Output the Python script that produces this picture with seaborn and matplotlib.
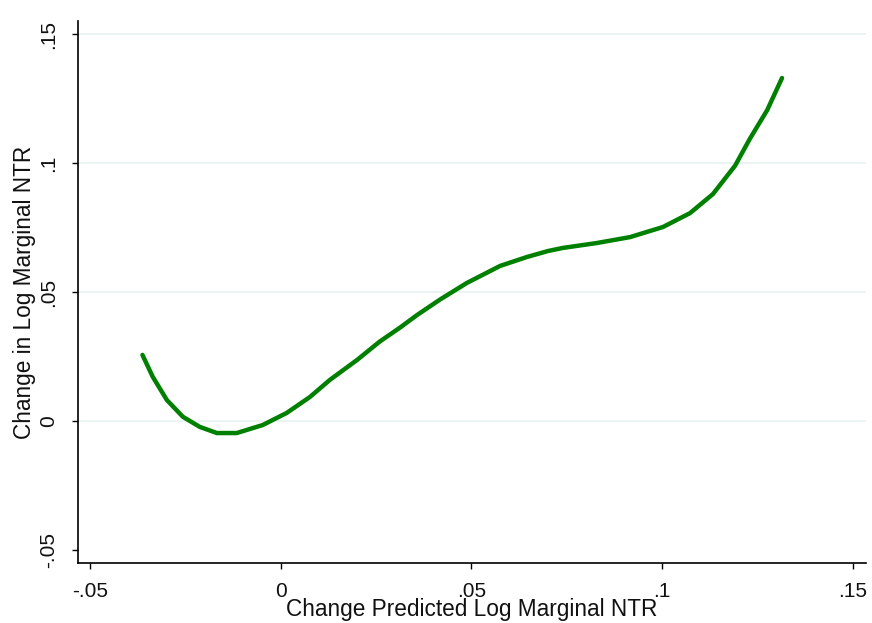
import numpy as np
import pandas as pd
import seaborn as sns
import matplotlib
matplotlib.use('Agg')
import matplotlib.pyplot as plt

# curve
pred_change = [-0.0362, -0.0335, -0.0298, -0.0256, -0.0212, -0.0167, -0.0115,
               -0.0047, 0.0016, 0.0077, 0.0129, 0.0200, 0.0260, 0.0313, 0.0357,
               0.0417, 0.0488, 0.0575, 0.0646, 0.0701, 0.0740, 0.0829, 0.0916,
               0.1002, 0.1073, 0.1133, 0.1191, 0.1230, 0.1275, 0.1314]
ntr_change = [0.0256, 0.0171, 0.0081, 0.0016, -0.0023, -0.0047, -0.0047,
              -0.0016, 0.0031, 0.0093, 0.0159, 0.0236, 0.0308, 0.0362, 0.0410,
              0.0470, 0.0535, 0.0601, 0.0636, 0.0659, 0.0671, 0.0690, 0.0713,
              0.0752, 0.0806, 0.0880, 0.0990, 0.1095, 0.1205, 0.1330]

x_ticks = [-0.05, 0, 0.05, 0.1, 0.15]
x_tick_labels = ['-.05', '0', '.05', '.1', '.15']
y_ticks = [-0.05, 0, 0.05, 0.1, 0.15]
y_tick_labels = ['-.05', '0', '.05', '.1', '.15']

df = pd.DataFrame({'x': pred_change, 'y': ntr_change})

sns.set_style('white')
plt.rcParams['font.family'] = ['Liberation Sans', 'DejaVu Sans']

fig = plt.figure(figsize=(8.72, 6.23), dpi=100)
ax = fig.add_axes([0.0894, 0.0963, 0.9037, 0.87])

sns.lineplot(data=df, x='x', y='y', color='#008000', linewidth=3.2, ax=ax, sort=False)

ax.set_xlim(-0.0531, 0.1534)
ax.set_ylim(-0.0551, 0.1551)
ax.set_xticks(x_ticks)
ax.set_xticklabels(x_tick_labels)
ax.set_yticks(y_ticks)
ax.set_yticklabels(y_tick_labels)

ax.grid(axis='y', color='#eaf2f3', linewidth=1.3)
ax.yaxis.get_gridlines()[0].set_visible(False)
ax.set_axisbelow(True)

for s in ['top', 'right']:
    ax.spines[s].set_visible(False)
for s in ['left', 'bottom']:
    ax.spines[s].set_color('black')
    ax.spines[s].set_linewidth(1.2)

ax.tick_params(axis='both', direction='out', length=4.5, width=1.0, color='black',
               labelsize=15, labelcolor='#111111', bottom=True, left=True)
ax.tick_params(axis='x', pad=9)
ax.tick_params(axis='y', pad=10)
plt.setp(ax.get_yticklabels(), rotation=90, va='center')

ax.set_xlabel('Change Predicted Log Marginal NTR', fontsize=16.3, color='#111111')
ax.set_ylabel('Change in Log Marginal NTR', fontsize=16.3, color='#111111')
ax.xaxis.set_label_coords(0.5, -0.064)
ax.yaxis.set_label_coords(-0.053, 0.5)

fig.savefig('out.png', dpi=100)
